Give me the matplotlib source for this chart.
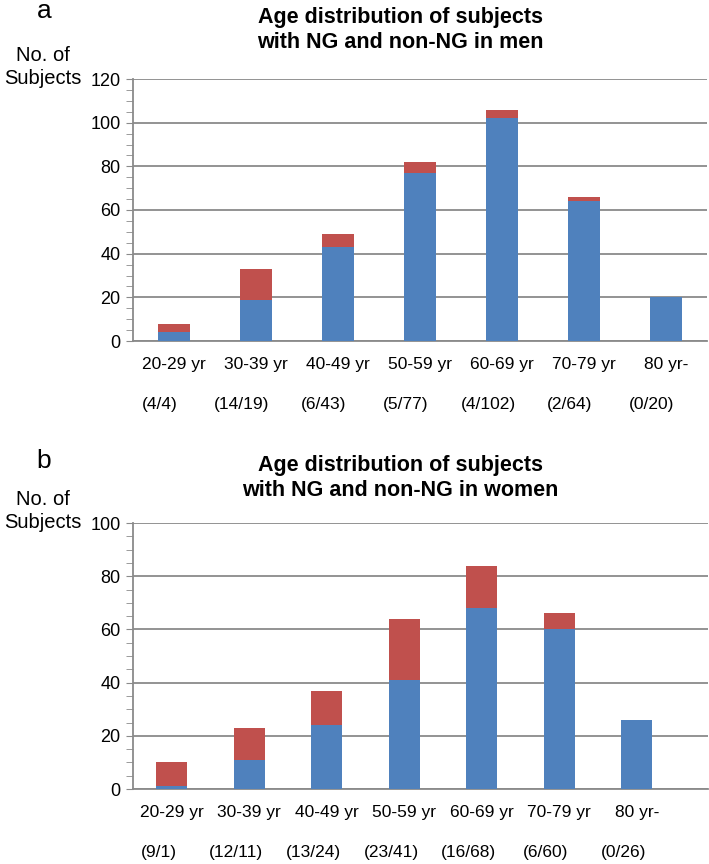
import numpy as np
import matplotlib
matplotlib.use("Agg")
import matplotlib.pyplot as plt
from matplotlib.ticker import MultipleLocator

plt.rcParams['font.family'] = ['Liberation Sans', 'DejaVu Sans']

age_groups = ["20-29 yr", "30-39 yr", "40-49 yr", "50-59 yr", "60-69 yr", "70-79 yr", "80 yr-"]

# men: NG / non-NG counts
men_ng = [4, 14, 6, 5, 4, 2, 0]
men_non = [4, 19, 43, 77, 102, 64, 20]

# women: NG / non-NG counts
women_ng = [9, 12, 13, 23, 16, 6, 0]
women_non = [1, 11, 24, 41, 68, 60, 26]

BLUE = "#4f81bd"
RED = "#c0504d"
GRID = "#8a8a8a"

W, H = 709, 864
fig = plt.figure(figsize=(W / 100, H / 100), dpi=100)


def panel(rect, ng, non, ymax, xmax, letter, title, title_y, letter_y, ylab_y):
    ax = fig.add_axes(rect)
    x = np.arange(len(age_groups))
    ax.bar(x, non, width=0.4, color=BLUE, zorder=3)
    ax.bar(x, ng, width=0.4, bottom=non, color=RED, zorder=3)
    ax.set_xlim(-0.5, xmax)
    ax.set_ylim(0, ymax)
    ax.yaxis.set_major_locator(MultipleLocator(20))
    ax.yaxis.set_minor_locator(MultipleLocator(5))
    ax.grid(axis='y', color=GRID, linewidth=1.3, zorder=0)
    for s in ['top', 'right']:
        ax.spines[s].set_visible(False)
    ax.spines['left'].set_color(GRID)
    ax.spines['bottom'].set_color(GRID)
    ax.spines['left'].set_linewidth(1.3)
    ax.spines['bottom'].set_linewidth(1.3)
    ax.set_xticks([])
    ax.tick_params(axis='y', which='major', length=5, color=GRID, labelsize=13, pad=4)
    ax.tick_params(axis='y', which='minor', length=5, color=GRID)
    ax.set_yticks(np.arange(0, ymax + 1, 20))

    for i, lab in enumerate(age_groups):
        ax.annotate(lab, xy=(x[i], 0), xycoords=('data', 'axes fraction'),
                    xytext=(0, -23), textcoords='offset pixels',
                    ha='center', va='center', fontsize=12.5)
        ax.annotate("(%d/%d)" % (ng[i], non[i]), xy=(x[i] - 0.17, 0),
                    xycoords=('data', 'axes fraction'),
                    xytext=(0, -63), textcoords='offset pixels',
                    ha='center', va='center', fontsize=12.5)

    fig.text(44 / W, 1 - letter_y / H, letter, fontsize=19, ha='center', va='baseline')
    fig.text(400 / W, 1 - title_y / H, title, fontsize=15.5, fontweight='bold',
             ha='center', va='center', linespacing=1.3)
    fig.text(43 / W, 1 - ylab_y / H, "No. of\nSubjects", fontsize=14.5,
             ha='center', va='center', linespacing=1.25)
    return ax


panel([133 / W, 1 - 341 / H, 574 / W, (341 - 79) / H], men_ng, men_non, 120, 6.5,
      "a", "Age distribution of subjects\nwith NG and non-NG in men", 30, 18, 67)
panel([133 / W, 1 - 789 / H, 575 / W, (789 - 523) / H], women_ng, women_non, 100, 6.92,
      "b", "Age distribution of subjects\nwith NG and non-NG in women", 478, 468, 511)

fig.savefig("out.png", dpi=100)
